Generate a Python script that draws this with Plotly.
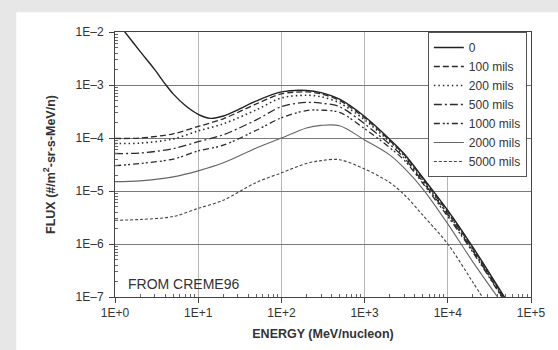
import plotly.graph_objects as go

# ---- data ----
energy_0 = [1, 1.3, 2, 3, 4, 5, 7, 10, 14, 20, 30, 50, 100, 200, 300, 500,
            1000, 2000, 3000, 5000, 10000, 20000, 50000]
flux_0 = [1.7e-2, 1.02e-2, 4.3e-3, 1.95e-3, 1.05e-3, 6.8e-4, 4.1e-4, 2.8e-4,
          2.35e-4, 2.6e-4, 3.4e-4, 5.0e-4, 7.4e-4, 7.9e-4, 7.2e-4, 5.4e-4,
          2.55e-4, 9.5e-5, 5.0e-5, 1.8e-5, 4.3e-6, 8.7e-7, 9e-8]

energy = [1, 2, 5, 10, 20, 50, 100, 200, 300, 500, 1000, 2000, 3000, 5000,
          10000, 20000, 50000]
flux_100 = [9.8e-5, 1.0e-4, 1.2e-4, 1.65e-4, 2.3e-4, 4.4e-4, 6.8e-4, 7.4e-4,
            6.8e-4, 5.1e-4, 2.4e-4, 9.0e-5, 4.8e-5, 1.7e-5, 4.0e-6, 8.2e-7, 8.5e-8]
flux_200 = [7.9e-5, 8.0e-5, 9.6e-5, 1.36e-4, 1.85e-4, 3.4e-4, 5.7e-4, 6.4e-4,
            6.0e-4, 4.6e-4, 2.2e-4, 8.5e-5, 4.6e-5, 1.6e-5, 3.8e-6, 7.8e-7, 8.0e-8]
flux_500 = [5.1e-5, 5.2e-5, 6.3e-5, 8.5e-5, 1.15e-4, 2.2e-4, 3.9e-4, 4.7e-4,
            4.55e-4, 3.9e-4, 1.85e-4, 7.6e-5, 4.2e-5, 1.5e-5, 3.6e-6, 7.4e-7, 7.8e-8]
flux_1000 = [3.0e-5, 3.3e-5, 4.0e-5, 5.7e-5, 7.3e-5, 1.4e-4, 2.4e-4, 3.3e-4,
             3.35e-4, 3.05e-4, 1.5e-4, 6.6e-5, 3.8e-5, 1.4e-5, 3.3e-6, 7.0e-7, 7.5e-8]
flux_2000 = [1.5e-5, 1.55e-5, 1.85e-5, 2.4e-5, 3.4e-5, 6.5e-5, 1.0e-4, 1.55e-4,
             1.73e-4, 1.7e-4, 9.2e-5, 4.8e-5, 2.7e-5, 1.1e-5, 2.4e-6, 4.6e-7, 6e-8]
flux_5000 = [2.8e-6, 2.9e-6, 3.3e-6, 4.7e-6, 6.7e-6, 1.45e-5, 2.2e-5, 3.3e-5,
             3.75e-5, 3.9e-5, 2.6e-5, 1.45e-5, 8.5e-6, 3.5e-6, 1.0e-6, 1.9e-7, 2e-8]

series_names = ["0", "100 mils", "200 mils", "500 mils", "1000 mils",
                "2000 mils", "5000 mils"]

x_tickvals = [1, 10, 100, 1000, 10000, 100000]
x_ticktext = ["1E+0", "1E+1", "1E+2", "1E+3", "1E+4", "1E+5"]
y_tickvals = [1e-7, 1e-6, 1e-5, 1e-4, 1e-3, 1e-2]
y_ticktext = ["1E\u20137", "1E\u20136", "1E\u20135", "1E\u20134", "1E\u20133", "1E\u20132"]
minor_mults = [2, 3, 4, 5, 6, 7, 8, 9]
x_minor = [m * d for d in x_tickvals[:-1] for m in minor_mults]
y_minor = [m * d for d in y_tickvals[:-1] for m in minor_mults]

# ---- styles ----
styles = [
    dict(color="#222222", width=1.4, dash="solid"),
    dict(color="#2a2a2a", width=1.3, dash="6px,3px"),
    dict(color="#2a2a2a", width=1.6, dash="1.5px,3px"),
    dict(color="#2a2a2a", width=1.3, dash="8px,3px,2px,3px"),
    dict(color="#2a2a2a", width=1.3, dash="6px,3px,2px,2px,2px,3px"),
    dict(color="#666666", width=1.1, dash="solid"),
    dict(color="#444444", width=1.1, dash="3px,2px"),
]

xs = [energy_0, energy, energy, energy, energy, energy, energy]
ys = [flux_0, flux_100, flux_200, flux_500, flux_1000, flux_2000, flux_5000]

fig = go.Figure()
for name, x, y, st in zip(series_names, xs, ys, styles):
    fig.add_trace(go.Scatter(x=x, y=y, mode="lines", name=name,
                             line=dict(shape="spline", smoothing=0.9, **st)))

font_family = "Liberation Sans, Arial, sans-serif"
gray = "#e7e7e7"

fig.update_layout(
    width=558, height=350,
    margin=dict(l=115, r=26, t=32, b=49),
    paper_bgcolor="white",
    plot_bgcolor="white",
    font=dict(family=font_family, size=12, color="#333333"),
    showlegend=True,
    legend=dict(x=0.99, y=1.0, xanchor="right", yanchor="top",
                bgcolor="white", bordercolor="#555555", borderwidth=1,
                font=dict(size=12, color="#333333"),
                itemwidth=30, tracegroupgap=0),
    shapes=[
        # gray frame strips (top and left) outside the plot area
        dict(type="rect", xref="paper", yref="paper",
             x0=-0.3, x1=1.1, y0=1.0743, y1=1.2,
             fillcolor=gray, line=dict(width=0), layer="below"),
        dict(type="rect", xref="paper", yref="paper",
             x0=-0.3, x1=-0.2374, y0=-0.2, y1=1.2,
             fillcolor=gray, line=dict(width=0), layer="below"),
    ],
    annotations=[dict(text="FROM CREME96", xref="paper", yref="paper",
                      x=0.026, y=0.048, xanchor="left", yanchor="middle",
                      showarrow=False, font=dict(size=14, color="#333333"))],
)

fig.update_xaxes(
    type="log", range=[0, 5],
    tickvals=x_tickvals, ticktext=x_ticktext,
    ticks="outside", ticklen=5, tickcolor="#444444",
    showline=True, linecolor="#444444", linewidth=1, mirror=True,
    showgrid=True, gridcolor="#b5b5b5", gridwidth=1,
    minor=dict(tickmode="array", tickvals=x_minor, ticks="inside",
               ticklen=3, tickcolor="#666666", showgrid=False),
    zeroline=False,
    title=dict(text="ENERGY (MeV/nucleon)", standoff=9,
               font=dict(size=12.5, weight="bold", color="#333333")),
)
fig.update_yaxes(
    type="log", range=[-7, -2],
    tickvals=y_tickvals, ticktext=y_ticktext,
    ticks="outside", ticklen=5, tickcolor="#444444",
    ticklabelstandoff=3,
    showline=True, linecolor="#444444", linewidth=1, mirror=True,
    showgrid=True, gridcolor="#7a7a7a", gridwidth=1,
    minor=dict(tickmode="array", tickvals=y_minor, ticks="inside",
               ticklen=3, tickcolor="#666666", showgrid=False),
    zeroline=False,
    title=dict(text="FLUX (#/m<sup>2</sup>-sr-s-MeV/n)", standoff=17,
               font=dict(size=12.5, weight="bold", color="#333333")),
)

fig.write_html("out.html")
